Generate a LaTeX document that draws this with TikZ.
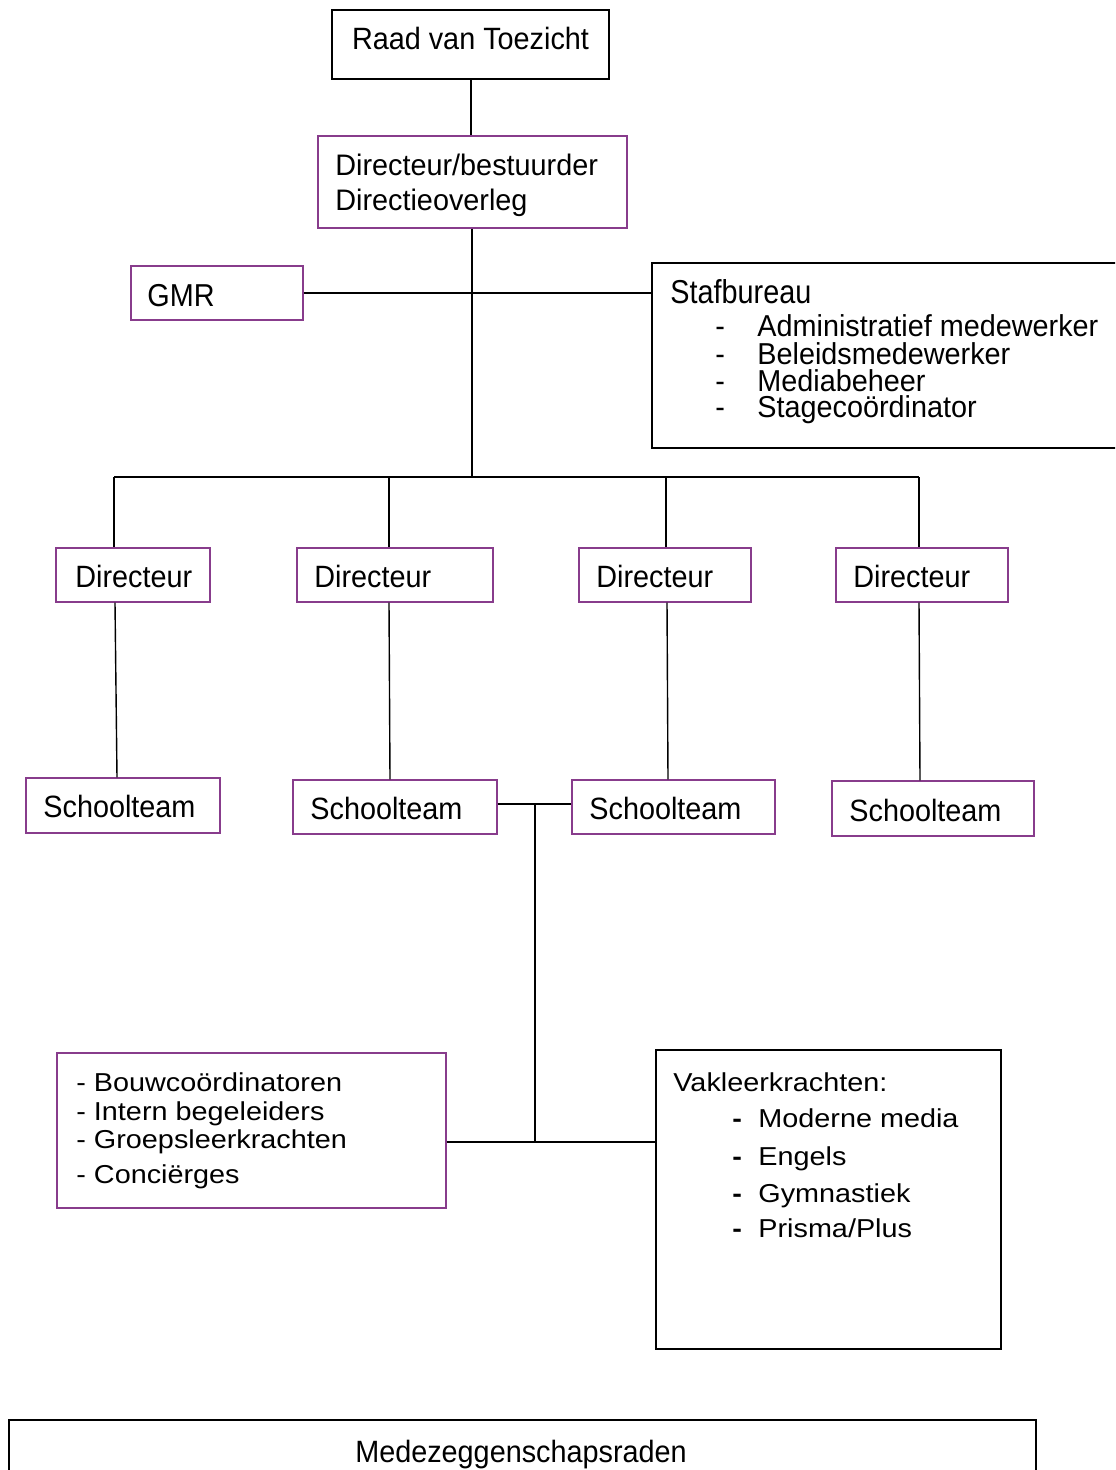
\documentclass[tikz,border=0pt]{standalone}
\usepackage{fontspec}
\setmainfont{Liberation Sans}
\usetikzlibrary{fit}
\definecolor{boxpurple}{RGB}{136,60,140}
\newcommand{\vs}[2]{\scalebox{1}[#1]{#2}}
\begin{document}
\begin{tikzpicture}[x=0.5pt,y=-0.5pt,
  blackbox/.style={draw=black,line width=0.7pt,inner sep=0pt},
  purplebox/.style={draw=boxpurple,line width=0.7pt,inner sep=0pt},
  txt/.style={inner sep=0pt,font=\fontsize{14.4}{17}\selectfont},
  conn/.style={draw=black,line width=0.7pt}]
\useasboundingbox (0,0) rectangle (1115,1470);
\fill[white] (0,0) rectangle (1115,1470);
\clip (0,0) rectangle (1115,1470);

% boxes
\node[blackbox,fit={(332,10) (609,79)}] (raad) {};
\node[purplebox,fit={(318,136) (627,228)}] (dirb) {};
\node[purplebox,fit={(131,266) (303,320)}] (gmr) {};
\node[blackbox,fit={(652,263) (1130,448)}] (staf) {};
\node[purplebox,fit={(56,548) (210,602)}] (d1) {};
\node[purplebox,fit={(297,548) (493,602)}] (d2) {};
\node[purplebox,fit={(579,548) (751,602)}] (d3) {};
\node[purplebox,fit={(836,548) (1008,602)}] (d4) {};
\node[purplebox,fit={(26,778) (220,833)}] (s1) {};
\node[purplebox,fit={(293,780) (497,834)}] (s2) {};
\node[purplebox,fit={(572,780) (775,834)}] (s3) {};
\node[purplebox,fit={(832,781) (1034,836)}] (s4) {};
\node[purplebox,fit={(57,1053) (446,1208)}] (lst) {};
\node[blackbox,fit={(656,1050) (1001,1349)}] (vak) {};
\node[blackbox,fit={(9,1420) (1036,1490)}] (mzr) {};

% texts
\node[txt,anchor=base] (traad) at (470.5,50) {\vs{1.07}{Raad van Toezicht}};
\node[txt,anchor=base west] (tdirb1) at (335,176) {\vs{1.03}{Directeur/bestuurder}};
\node[txt,anchor=base west] (tdirb2) at (335,211) {\vs{1.03}{Directieoverleg}};
\node[txt,anchor=base west] (tgmr) at (147,307) {\vs{1.1}{GMR}};
\node[txt,anchor=base west] (tstaf) at (670,304) {\vs{1.15}{Stafbureau}};
\foreach \yy/\item [count=\i] in {337/{Administratief medewerker},365/{Beleidsmedewerker},392/{Mediabeheer},418/{Stagecoördinator}}{
  \node[txt,anchor=base west] (sd\i) at (715,\yy) {\vs{1.05}{-}};
  \node[txt,anchor=base west] (si\i) at (757,\yy) {\vs{1.05}{\item}};
}
\node[txt,anchor=base west] (td1) at (75,587) {\vs{1.07}{Directeur}};
\node[txt,anchor=base west] (td2) at (314,587) {\vs{1.07}{Directeur}};
\node[txt,anchor=base west] (td3) at (596,587) {\vs{1.07}{Directeur}};
\node[txt,anchor=base west] (td4) at (853,587) {\vs{1.07}{Directeur}};
\node[txt,anchor=base west] (ts1) at (43,817) {\vs{1.07}{Schoolteam}};
\node[txt,anchor=base west] (ts2) at (310,819) {\vs{1.07}{Schoolteam}};
\node[txt,anchor=base west] (ts3) at (589,819) {\vs{1.07}{Schoolteam}};
\node[txt,anchor=base west] (ts4) at (849,821) {\vs{1.07}{Schoolteam}};
\node[txt,anchor=base west] (tl1) at (76,1091) {\vs{0.9}{- Bouwcoördinatoren}};
\node[txt,anchor=base west] (tl2) at (76,1120) {\vs{0.9}{- Intern begeleiders}};
\node[txt,anchor=base west] (tl3) at (76,1148) {\vs{0.9}{- Groepsleerkrachten}};
\node[txt,anchor=base west] (tl4) at (76,1183) {\vs{0.9}{- Conciërges}};
\node[txt,anchor=base west] (tvak) at (673,1091) {\vs{0.9}{Vakleerkrachten:}};
\foreach \yy/\item [count=\i] in {1127/{Moderne media},1165/{Engels},1202/{Gymnastiek},1237/{Prisma/Plus}}{
  \node[txt,anchor=base west] (vd\i) at (732,\yy) {\vs{0.9}{\textbf{-}}};
  \node[txt,anchor=base west] (vi\i) at (758,\yy) {\vs{0.9}{\item}};
}
\node[txt,anchor=base] (tmzr) at (521,1462) {\vs{1.07}{Medezeggenschapsraden}};

% connector coordinates
\coordinate (bus) at (472,477);
\coordinate (b1) at (114,477);
\coordinate (b2) at (389,477);
\coordinate (b3) at (666,477);
\coordinate (b4) at (919,477);
\coordinate (jt) at (535,804);
\coordinate (jb) at (535,1142);

% connectors
\draw[conn] ([xshift=0.25pt]raad.south) -- ([xshift=0.25pt]raad.south |- dirb.north);
\draw[conn] (dirb.south -| bus) -- (bus);
\draw[conn] (gmr.east) -- (gmr.east -| staf.west);
\draw[conn] (b1) -- (b4);
\draw[conn] (b1) -- (b1 |- d1.north);
\draw[conn] (b2) -- (b2 |- d2.north);
\draw[conn] (b3) -- (b3 |- d3.north);
\draw[conn] (b4) -- (b4 |- d4.north);
\draw[conn] ([xshift=0.5pt]b1 |- d1.south) -- ([xshift=1.5pt]b1 |- s1.north);
\draw[conn] (b2 |- d2.south) -- ([xshift=0.5pt]b2 |- s2.north);
\draw[conn] ([xshift=0.5pt]b3 |- d3.south) -- ([xshift=1pt]b3 |- s3.north);
\draw[conn] (b4 |- d4.south) -- ([xshift=0.5pt]b4 |- s4.north);
\draw[conn] (s2.east |- jt) -- (s3.west |- jt);
\draw[conn] (jt) -- (jb);
\draw[conn] (lst.east |- jb) -- (vak.west |- jb);
\end{tikzpicture}
\end{document}
